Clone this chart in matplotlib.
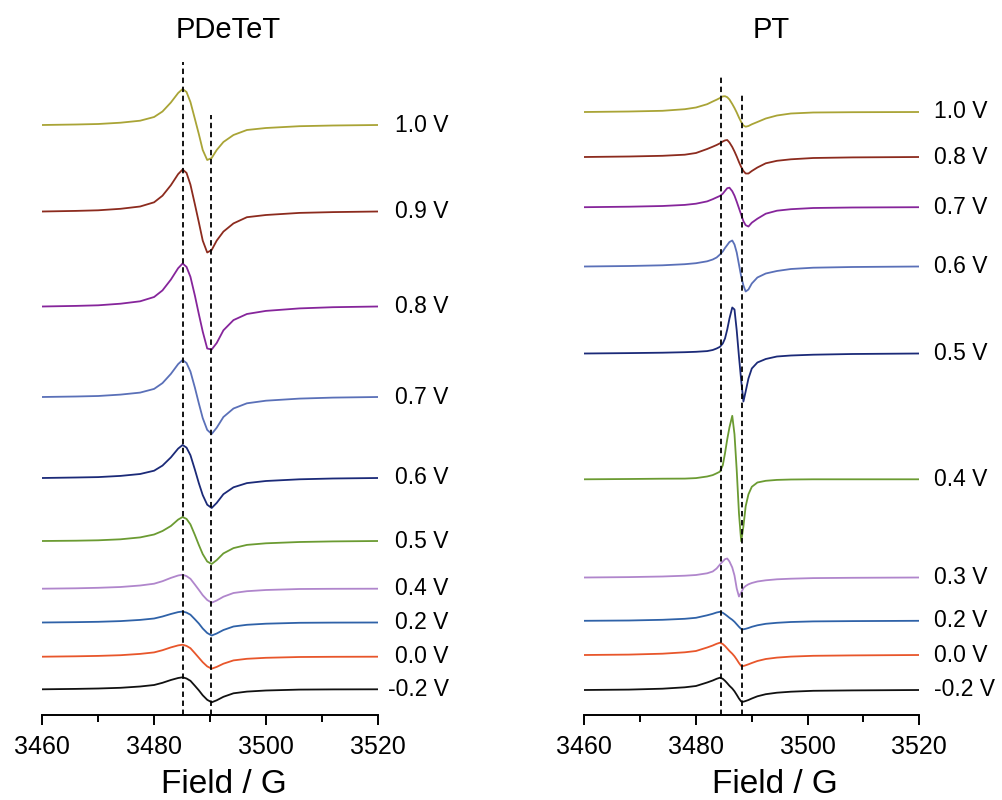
import matplotlib
matplotlib.use("Agg")
import matplotlib.pyplot as plt
from matplotlib.ticker import MultipleLocator

plt.rcParams['font.family'] = ['Liberation Sans', 'DejaVu Sans']

# 磁場 (G) - 各パネル共通のサンプリング点
field_pdetet = [3460, 3466, 3470, 3474, 3477.5, 3480, 3481.5, 3483, 3484.3, 3485.1,
                3485.8, 3486.5, 3487.3, 3488, 3488.7, 3489.5, 3490.3, 3491.2, 3492.4,
                3494.2, 3496.6, 3500, 3506, 3512, 3520]
field_pt = [3460, 3468, 3474, 3478, 3480, 3482, 3483, 3483.7, 3484.3, 3484.8, 3485.2,
            3485.6, 3486.0, 3486.5, 3486.9, 3487.3, 3487.7, 3488.1, 3488.5, 3488.9,
            3489.4, 3490, 3491, 3492.5, 3494.5, 3497, 3501, 3508, 3520]

labels_pdetet = ["1.0 V", "0.9 V", "0.8 V", "0.7 V", "0.6 V", "0.5 V", "0.4 V", "0.2 V", "0.0 V", "-0.2 V"]
labels_pt = ["1.0 V", "0.8 V", "0.7 V", "0.6 V", "0.5 V", "0.4 V", "0.3 V", "0.2 V", "0.0 V", "-0.2 V"]

# スタック表示のベースライン (arb. units)
offset_pdetet = [675, 588.5, 493.5, 403, 322, 259, 211.3, 177.5, 143.3, 110.7]
offset_pt = [688, 643, 592.8, 533.5, 446.5, 320.7, 222.5, 179.2, 145, 110]

# EPR信号 (ベースラインからの値, arb. units)
pdetet_1_0 = [0, 0.5, 1.0, 2.3, 4.3, 8, 13.5, 22.5, 32, 36, 33, 23, 6, -9, -25, -35, -33, -25, -17, -10, -5, -3, -1.2, -0.5, 0]
pdetet_0_9 = [0, 0.6, 1.2, 2.7, 5, 9.2, 15.8, 26.3, 37.4, 42, 38.6, 26.9, 7.1, -10.7, -29.1, -41, -38.5, -29.1, -20.1, -11.9, -5.7, -3.5, -1.4, -0.6, 0]
pdetet_0_8 = [0, 0.6, 1.2, 2.8, 5.2, 9.5, 16.1, 26.9, 38.3, 43, 39.6, 29.7, 10.8, -7.5, -25.1, -42, -43, -36.5, -23.8, -13.6, -7.5, -4.4, -1.9, -0.7, 0]
pdetet_0_7 = [0, 0.5, 1, 2.4, 4.4, 8.1, 13.9, 23.1, 32.9, 37, 34, 25.5, 9.3, -6.3, -21.1, -32.9, -37, -30.7, -20, -11.5, -6.3, -3.7, -1.6, -0.6, 0]
pdetet_0_6 = [0, 0.5, 0.9, 2.1, 4, 7.3, 12.4, 20.6, 29.4, 33, 30.4, 22.8, 8.3, -5.1, -17.1, -26.7, -30, -24.9, -16.2, -9.3, -5.1, -3, -1.3, -0.5, 0]
pdetet_0_5 = [0, 0.3, 0.7, 1.7, 3.6, 6.5, 10, 15, 21.4, 24, 22.1, 16.6, 6, -3.9, -13.1, -20.5, -23, -19.1, -12.4, -7.1, -3.9, -2.3, -1, -0.4, 0]
pdetet_0_4 = [0, 0.4, 0.9, 1.7, 3.2, 5, 7.5, 10.8, 13.2, 14, 12.6, 9.9, 4.1, -1.1, -6.5, -11.3, -14, -11.8, -8, -4.3, -2.5, -1.3, -0.3, -0.1, 0]
pdetet_0_2 = [0, 0.35, 0.7, 1.4, 2.6, 4, 6, 8.5, 10.4, 11, 9.9, 7.8, 3.2, -1, -6, -10.5, -13, -11, -7.5, -4, -2.3, -1.2, -0.3, -0.1, 0]
pdetet_0_0 = [0, 0.4, 0.8, 1.5, 2.8, 4.3, 6.5, 9.3, 11.3, 12, 10.8, 8.5, 3.5, -1, -5.5, -9.7, -12, -10.2, -7, -3.7, -2.1, -1.1, -0.3, -0.1, 0]
pdetet_m0_2 = [0, 0.4, 0.8, 1.5, 2.8, 4.3, 6.5, 9.3, 11.3, 12, 10.8, 8.5, 3.5, -1, -6, -10.5, -13, -11, -7.5, -4, -2.3, -1.2, -0.3, -0.1, 0]

pt_1_0 = [0, 0.5, 1.2, 2.8, 4.5, 7.8, 10.5, 12.3, 14, 15.6, 15.8, 14.8, 12.5, 8, 4, -0.5, -5.5, -10, -13.5, -14.7, -14, -12.3, -10, -6.5, -3.5, -1.5, -0.5, -0.2, 0]
pt_0_8 = [0, 0.5, 1.2, 2.3, 4, 8, 10.3, 12, 13.7, 15.5, 16.6, 17, 14.5, 10, 5.5, 0.5, -5, -10, -14, -16.5, -16.5, -14, -10.5, -6.3, -3.8, -2.3, -1, -0.4, 0]
pt_0_7 = [0, 0.5, 1.2, 2.3, 3.5, 5.8, 8, 9.8, 11.3, 13.5, 16.3, 19, 19.5, 16, 11.5, 5.5, -1, -7.5, -14, -18, -19.3, -15.5, -11.5, -6.5, -3.5, -2, -0.8, -0.3, 0]
pt_0_6 = [0, 0.5, 1.2, 2.3, 3.3, 5.2, 7, 9, 12, 15, 18.5, 21.5, 24.5, 26, 22, 14, 2, -10, -19, -25, -23, -17, -11, -7, -4.5, -2.5, -1.2, -0.5, 0]
pt_0_5 = [0, 0.4, 0.8, 1.3, 1.7, 2.4, 3.5, 5, 6.7, 10, 15, 24, 35, 46, 44, 23, -3, -27, -48, -38, -25, -15, -9, -5.5, -3, -2, -1.2, -0.5, 0]
pt_0_4 = [0, 0.3, 0.6, 0.7, 1.2, 2.8, 4.2, 6, 7.7, 14, 26, 40, 52, 63.5, 45, 9, -34, -62, -47, -27, -15, -7.5, -3.2, -1.5, -0.6, -0.2, 0, 0, 0]
pt_0_3 = [0, 0.4, 1, 1.8, 2.5, 4.2, 6, 9, 13, 16, 18.3, 19, 16, 10, 2, -11, -19, -15, -10.5, -8.5, -6.8, -5.5, -4, -2.8, -1.8, -1.2, -0.6, -0.3, 0]
pt_0_2 = [0, 0.3, 1, 2, 3, 5.5, 7, 8.3, 9, 8, 6.5, 4.8, 3, 1, -1, -3.5, -6, -8.2, -8.5, -8, -7.2, -6, -4.5, -3, -2, -1.2, -0.6, -0.3, 0]
pt_0_0 = [0, 0.4, 1.3, 2.7, 4, 7.5, 9.5, 11.2, 12.3, 11, 9, 6.5, 4, 1.3, -1.3, -4.5, -8, -11, -11, -10.3, -9.3, -8, -6, -4, -2.6, -1.6, -0.8, -0.4, 0]
pt_m0_2 = [0, 0.4, 1.3, 2.7, 4, 7.5, 9.5, 11.2, 12.3, 11.2, 9.2, 6.8, 4.2, 1.5, -1.3, -4.8, -8.5, -11.5, -11.7, -11, -10, -8.5, -6.3, -4.2, -2.7, -1.7, -0.8, -0.4, 0]

spectra_pdetet = [pdetet_1_0, pdetet_0_9, pdetet_0_8, pdetet_0_7, pdetet_0_6,
                  pdetet_0_5, pdetet_0_4, pdetet_0_2, pdetet_0_0, pdetet_m0_2]
spectra_pt = [pt_1_0, pt_0_8, pt_0_7, pt_0_6, pt_0_5,
              pt_0_4, pt_0_3, pt_0_2, pt_0_0, pt_m0_2]

# 破線位置 (G) と上端
dash_pdetet = [3485.2, 3490.2]
dash_top_pdetet = [738, 685]
dash_pt = [3484.5, 3488.2]
dash_top_pt = [725, 706]

colors = ["#a9a436", "#8c2b1e", "#86259b", "#5a70b8", "#1b2a78",
          "#6b9b32", "#b086cc", "#2f62a8", "#e8562b", "#111111"]

fig = plt.figure(figsize=(10.03, 8), dpi=100)
W, H = 1003, 800


def draw_panel(ax, fields, spectra, offsets, labels, dash_x, dash_top, label_x, label_ha):
    for sig, off, col, lab in zip(spectra, offsets, colors, labels):
        ax.plot(fields, [off + v for v in sig], color=col, lw=1.3, zorder=2,
                solid_joinstyle="round")
        ax.text(label_x, off, lab, ha=label_ha, va="center", fontsize=16.5,
                clip_on=False)
    for x, top in zip(dash_x, dash_top):
        ax.plot([x, x], [85, top], color="black", lw=1.3, ls=(0, (3, 2)), zorder=3)

    ax.set_xlim(3460, 3520)
    ax.set_ylim(85, 760)
    for s in ["left", "right", "top"]:
        ax.spines[s].set_visible(False)
    ax.spines["bottom"].set_linewidth(1.4)
    ax.set_yticks([])
    ax.xaxis.set_major_locator(MultipleLocator(20))
    ax.xaxis.set_minor_locator(MultipleLocator(10))
    ax.tick_params(axis="x", which="major", direction="out", length=7.5, width=1.4,
                   labelsize=18, pad=7)
    ax.tick_params(axis="x", which="minor", direction="out", length=5, width=1.4)
    ax.patch.set_alpha(0)


ax1 = fig.add_axes([42.3 / W, 85 / H, 335.4 / W, 675 / H])
ax2 = fig.add_axes([584.3 / W, 85 / H, 335.0 / W, 675 / H])

draw_panel(ax1, field_pdetet, spectra_pdetet, offset_pdetet, labels_pdetet,
           dash_pdetet, dash_top_pdetet, 3532.7, "right")
draw_panel(ax2, field_pt, spectra_pt, offset_pt, labels_pt,
           dash_pt, dash_top_pt, 3522.6, "left")

fig.text(228 / W, 1 - 38 / H, "PDeTeT", ha="center", va="baseline", fontsize=21)
fig.text(771 / W, 1 - 38 / H, "PT", ha="center", va="baseline", fontsize=21)
fig.text(224 / W, 1 - 793 / H, "Field / G", ha="center", va="baseline", fontsize=24)
fig.text(775 / W, 1 - 793 / H, "Field / G", ha="center", va="baseline", fontsize=24)

fig.savefig("out.png", dpi=100, facecolor="white")
